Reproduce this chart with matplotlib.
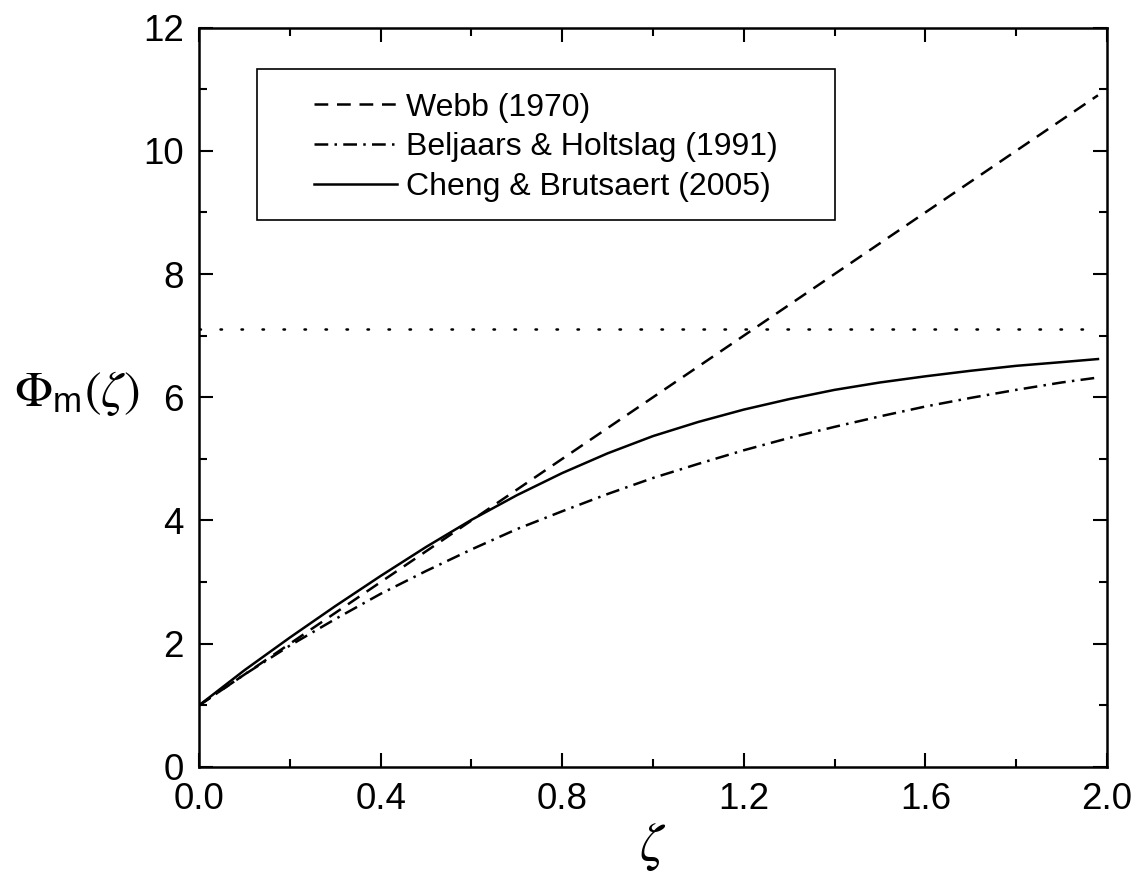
import matplotlib
matplotlib.use('Agg')
import matplotlib.pyplot as plt
from matplotlib.patches import Rectangle
from matplotlib.ticker import MultipleLocator

# 读图得到的数据 (zeta 0 ~ 1.98)
zeta = [0.0, 0.1, 0.2, 0.3, 0.4, 0.5, 0.6, 0.7, 0.8, 0.9, 1.0,
        1.1, 1.2, 1.3, 1.4, 1.5, 1.6, 1.7, 1.8, 1.9, 1.98]
webb = [1.0, 1.5, 2.0, 2.5, 3.0, 3.5, 4.0, 4.5, 5.0, 5.5, 6.0,
        6.5, 7.0, 7.5, 8.0, 8.5, 9.0, 9.5, 10.0, 10.5, 10.9]
beljaars = [1.0, 1.50, 1.97, 2.40, 2.81, 3.18, 3.53, 3.86, 4.15, 4.43, 4.69,
            4.92, 5.14, 5.34, 5.52, 5.69, 5.85, 5.99, 6.12, 6.24, 6.32]
cheng = [1.0, 1.57, 2.10, 2.61, 3.10, 3.57, 4.01, 4.41, 4.77, 5.09, 5.37,
         5.60, 5.80, 5.97, 6.12, 6.24, 6.34, 6.43, 6.51, 6.57, 6.62]
limit_x = [0.0, 1.98]
limit_y = [7.1, 7.1]

labels = ['Webb (1970)', 'Beljaars & Holtslag (1991)', 'Cheng & Brutsaert (2005)']

plt.rcParams['font.family'] = ['Liberation Sans', 'DejaVu Sans']
plt.rcParams['mathtext.fontset'] = 'custom'
plt.rcParams['mathtext.rm'] = 'STIXGeneral'
plt.rcParams['mathtext.it'] = 'STIXGeneral:italic'
plt.rcParams['mathtext.sf'] = 'Liberation Sans'

fig = plt.figure(figsize=(11.36, 8.82), dpi=100)
ax = fig.add_axes([0.1752, 0.1304, 0.7993, 0.8384])

lw = 1.8
ax.plot(zeta, webb, color='black', lw=lw, dashes=(5.5, 3.5), label=labels[0])
ax.plot(zeta, beljaars, color='black', lw=lw, dashes=(5.5, 2.5, 1, 2.5), label=labels[1])
ax.plot(zeta, cheng, color='black', lw=lw, linestyle='-', label=labels[2])
ax.plot(limit_x, limit_y, color='black', lw=1.8, dashes=(0.6, 7.8), dash_capstyle='round')

ax.set_xlim(0, 2.0)
ax.set_ylim(0, 12)
ax.xaxis.set_major_locator(MultipleLocator(0.4))
ax.xaxis.set_minor_locator(MultipleLocator(0.2))
ax.yaxis.set_major_locator(MultipleLocator(2))
ax.yaxis.set_minor_locator(MultipleLocator(1))
ax.xaxis.set_major_formatter(matplotlib.ticker.FormatStrFormatter('%.1f'))
ax.tick_params(which='both', direction='in', top=True, right=True, width=1.5, labelsize=26.5)
ax.tick_params(which='major', length=10)
ax.tick_params(which='minor', length=5.5)
ax.tick_params(axis='x', pad=11)
ax.tick_params(axis='y', pad=11)
for s in ax.spines.values():
    s.set_linewidth(1.8)

ax.set_xlabel(r'$\zeta$', fontsize=38, labelpad=3)
ax.set_ylabel(r'$\Phi_{\mathsf{m}}(\zeta)$', fontsize=36, rotation=0, ha='center', va='center')
ax.yaxis.set_label_coords(-0.134, 0.505)

# 图例框单独画
ax.add_patch(Rectangle((0.0639, 0.7396), 0.6366, 0.2043, transform=ax.transAxes,
                       fill=False, edgecolor='black', lw=1.2, zorder=5))
leg = ax.legend(loc='upper left', bbox_to_anchor=(0.1267, 0.912), frameon=False,
                fontsize=23, handlelength=2.6, handletextpad=0.28, labelspacing=0.3,
                borderpad=0, borderaxespad=0)

fig.savefig('out.png', dpi=100)
